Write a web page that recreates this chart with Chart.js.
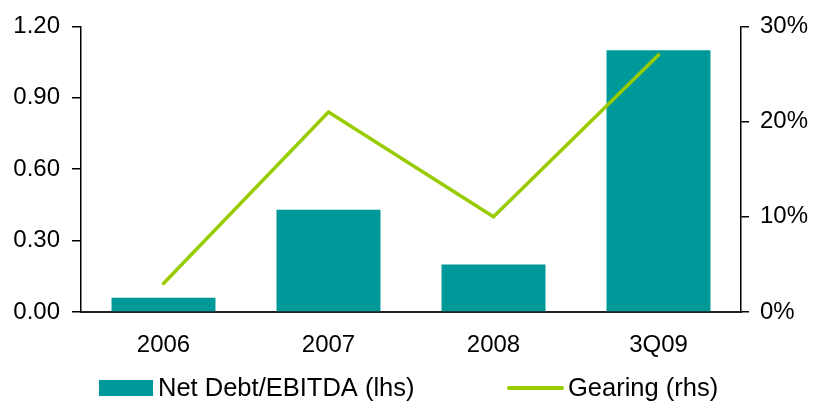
<!DOCTYPE html>
<html>
<head>
<meta charset="utf-8">
<script src="https://cdn.jsdelivr.net/npm/chart.js@4/dist/chart.umd.min.js"></script>
<style>
  html, body { margin: 0; padding: 0; background: #ffffff; }
  #wrap { width: 813px; height: 401px; }
</style>
</head>
<body>
<div id="wrap"><canvas id="chart" width="813" height="401"></canvas></div>
<script>
// Periods on the category axis
const categories = ['2006', '2007', '2008', '3Q09'];
// Net Debt / EBITDA ratio (left axis)
const netDebtEbitda = [0.06, 0.43, 0.20, 1.10];
// Gearing in percent (right axis)
const gearing = [3, 21, 10, 27];
// Axis tick values
const leftTicks = [0, 0.3, 0.6, 0.9, 1.2];
const rightTicks = [0, 10, 20, 30];

const TEAL = '#009999';
const LIME = '#99CC00';
const FONT = '"Liberation Sans", Arial, Helvetica, sans-serif';

// Legend drawn underneath the plot: a filled box for the bars, a short stroke for the line
const bottomLegend = {
  id: 'bottomLegend',
  afterDraw(chart) {
    const ctx = chart.ctx;
    const ds = chart.data.datasets;
    const y = 388;
    ctx.save();
    ctx.font = '25.5px ' + FONT;
    ctx.textBaseline = 'middle';
    ctx.textAlign = 'left';

    ctx.fillStyle = ds[0].backgroundColor;
    ctx.fillRect(99, 380, 54, 16);
    ctx.fillStyle = '#000';
    ctx.fillText(ds[0].label, 158, y + 1);

    ctx.strokeStyle = ds[1].borderColor;
    ctx.lineWidth = 4;
    ctx.lineCap = 'round';
    ctx.beginPath();
    ctx.moveTo(509, y);
    ctx.lineTo(562, y);
    ctx.stroke();
    ctx.fillStyle = '#000';
    ctx.fillText(ds[1].label, 568, y + 1);
    ctx.restore();
  }
};

new Chart(document.getElementById('chart'), {
  data: {
    labels: categories,
    datasets: [
      {
        type: 'bar',
        label: 'Net Debt/EBITDA (lhs)',
        data: netDebtEbitda,
        backgroundColor: TEAL,
        borderWidth: 0,
        yAxisID: 'yLeft',
        categoryPercentage: 1.0,
        barPercentage: 0.63,
        order: 2
      },
      {
        type: 'line',
        label: 'Gearing (rhs)',
        data: gearing,
        borderColor: LIME,
        backgroundColor: LIME,
        borderWidth: 3.5,
        borderCapStyle: 'round',
        borderJoinStyle: 'miter',
        pointRadius: 0,
        tension: 0,
        yAxisID: 'yRight',
        order: 1
      }
    ]
  },
  options: {
    responsive: false,
    animation: false,
    layout: { padding: { top: 22, right: 0, bottom: 0, left: 0 } },
    plugins: {
      legend: { display: false },
      tooltip: { enabled: false }
    },
    scales: {
      x: {
        grid: { display: false, drawTicks: false },
        border: { display: true, color: '#222', width: 2 },
        ticks: {
          color: '#000',
          font: { family: FONT, size: 24 },
          padding: 19,
          maxRotation: 0
        },
        afterFit(scale) { scale.height = 89; }
      },
      yLeft: {
        position: 'left',
        min: 0,
        max: 1.2,
        afterBuildTicks(scale) { scale.ticks = leftTicks.map(v => ({ value: v })); },
        grid: { drawOnChartArea: false, drawTicks: true, tickLength: 9, color: '#000', lineWidth: 1.5 },
        border: { display: true, color: '#000', width: 1.5 },
        ticks: {
          color: '#000',
          font: { family: FONT, size: 24 },
          padding: 12,
          callback: v => Number(v).toFixed(2)
        },
        afterFit(scale) { scale.width = 81; }
      },
      yRight: {
        position: 'right',
        min: 0,
        max: 30,
        afterBuildTicks(scale) { scale.ticks = rightTicks.map(v => ({ value: v })); },
        grid: { drawOnChartArea: false, drawTicks: true, tickLength: 8, color: '#000', lineWidth: 1.5 },
        border: { display: true, color: '#000', width: 1.5 },
        ticks: {
          color: '#000',
          font: { family: FONT, size: 24 },
          padding: 11,
          callback: v => v + '%'
        },
        afterFit(scale) { scale.width = 72; }
      }
    }
  },
  plugins: [bottomLegend]
});
</script>
</body>
</html>
